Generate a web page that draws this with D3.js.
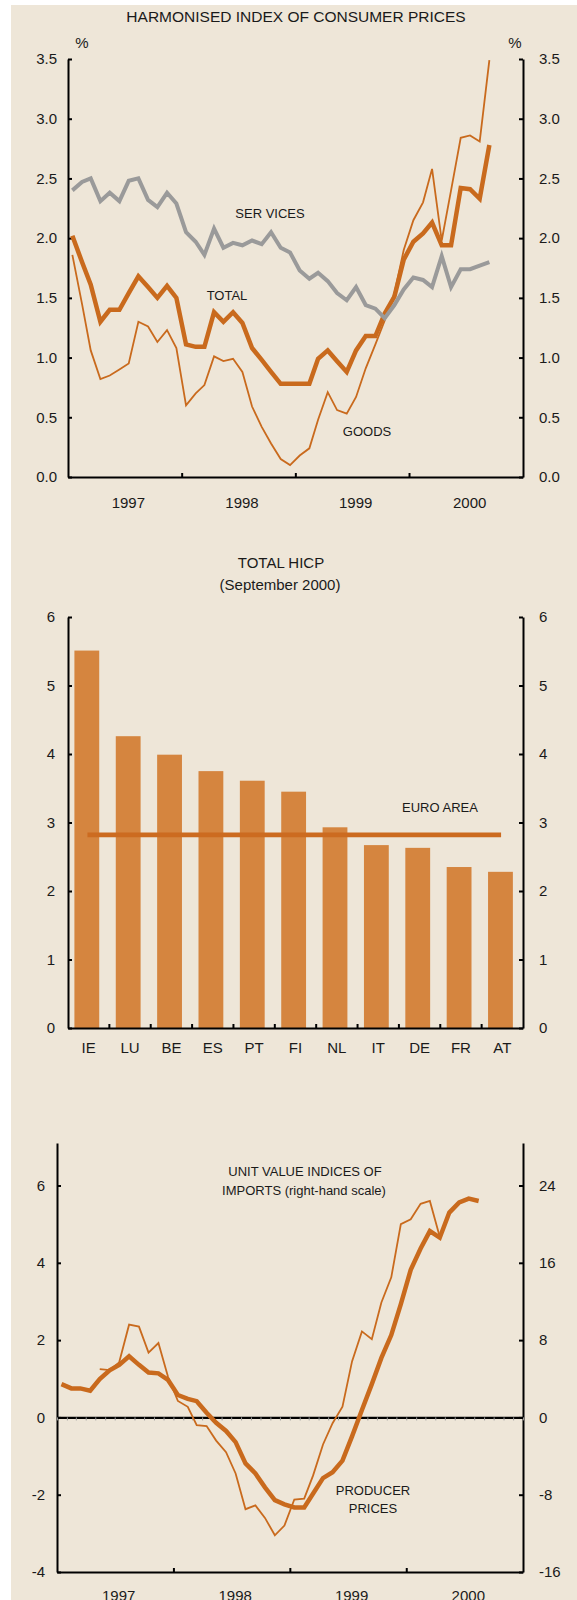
<!DOCTYPE html>
<html>
<head>
<meta charset="utf-8">
<script src="https://cdn.jsdelivr.net/npm/d3@7"></script>
<style>
body { margin: 0; background: #fff; }
svg text { font-family: "Liberation Sans", Arial, sans-serif; fill: #1a1a1a; }
</style>
</head>
<body>
<div id="chart"></div>
<script>
// monthly HICP, Jan 1997 - Sep 2000 (annual % change)
var hicpTotal = [2.02, 1.80, 1.61, 1.30, 1.40, 1.40, 1.54, 1.68, 1.59, 1.50, 1.60, 1.50,
    1.11, 1.09, 1.09, 1.38, 1.30, 1.38, 1.29, 1.08, 0.98, 0.88, 0.78, 0.78,
    0.78, 0.78, 0.99, 1.06, 0.97, 0.88, 1.06, 1.18, 1.18, 1.37, 1.51, 1.82,
    1.97, 2.04, 2.13, 1.94, 1.94, 2.42, 2.41, 2.33, 2.78];
var hicpServices = [2.40, 2.47, 2.50, 2.31, 2.38, 2.31, 2.48, 2.50, 2.32, 2.26, 2.38, 2.29,
    2.05, 1.97, 1.86, 2.08, 1.92, 1.96, 1.94, 1.98, 1.95, 2.05, 1.92, 1.88,
    1.73, 1.66, 1.71, 1.64, 1.54, 1.48, 1.59, 1.44, 1.41, 1.33, 1.44, 1.57,
    1.67, 1.65, 1.59, 1.85, 1.59, 1.74, 1.74, 1.77, 1.80];
var hicpGoods = [1.86, 1.45, 1.06, 0.82, 0.85, 0.90, 0.95, 1.30, 1.26, 1.13, 1.23, 1.08,
    0.60, 0.70, 0.77, 1.01, 0.97, 0.99, 0.88, 0.59, 0.42, 0.28, 0.15, 0.10,
    0.18, 0.24, 0.48, 0.71, 0.56, 0.53, 0.67, 0.91, 1.11, 1.31, 1.54, 1.90,
    2.15, 2.30, 2.58, 1.98, 2.40, 2.84, 2.86, 2.81, 3.49];

// total HICP by country, September 2000
var countries = ["IE", "LU", "BE", "ES", "PT", "FI", "NL", "IT", "DE", "FR", "AT"];
var countryHicp = [5.51, 4.26, 3.99, 3.75, 3.61, 3.45, 2.93, 2.67, 2.63, 2.35, 2.28];
var euroArea = 2.82;

// producer prices (left scale), Jan 1997 - Aug 2000
var producerPrices = [0.86, 0.75, 0.75, 0.69, 0.99, 1.22, 1.36, 1.58, 1.36, 1.16, 1.14, 0.97,
    0.58, 0.48, 0.42, 0.12, -0.14, -0.35, -0.64, -1.19, -1.45, -1.81, -2.14, -2.25,
    -2.33, -2.33, -1.97, -1.57, -1.42, -1.12, -0.49, 0.19, 0.86, 1.54, 2.13, 2.93,
    3.82, 4.37, 4.82, 4.65, 5.30, 5.56, 5.66, 5.60];
// unit value indices of imports (right scale), May 1997 - Apr 2000
var importPrices = [5.0, 4.9, 5.7, 9.6, 9.4, 6.7, 7.7, 4.2,
    1.7, 1.1, -0.8, -0.9, -2.4, -3.6, -5.8, -9.5, -9.1, -10.4, -12.2, -11.2,
    -8.5, -8.4, -6.0, -2.8, -0.6, 1.1, 5.8, 8.9, 8.1, 11.9, 14.5, 20.0,
    20.5, 22.1, 22.4, 18.7];
var importStart = 4;

var years = [1997, 1998, 1999, 2000];
var hicpTicks = [0, 0.5, 1, 1.5, 2, 2.5, 3, 3.5];
var barTicks = [0, 1, 2, 3, 4, 5, 6];
var ppiTicks = [-4, -2, 0, 2, 4, 6];
var importTicks = [-16, -8, 0, 8, 16, 24];

var orange = "#c96a1d";
var font = "'Liberation Sans', Arial, sans-serif";
var plain = function (d) { return String(d); };   // keeps the hyphen minus

function month(i) { return new Date(1997, i, 15); }

var svg = d3.select("#chart").append("svg")
    .attr("width", 577)
    .attr("height", 1600);

svg.append("rect")
    .attr("x", 11).attr("y", 5)
    .attr("width", 566).attr("height", 1595)
    .attr("fill", "#eee6d8");

function styleAxis(g) {
    g.attr("font-size", 15).attr("font-family", font);
    g.select(".domain").attr("stroke", "#000").attr("stroke-width", 2);
    g.selectAll(".tick line").attr("stroke", "#000").attr("stroke-width", 2);
    g.selectAll(".tick text").attr("fill", "#1a1a1a");
}

function label(txt, x, y, size) {
    svg.append("text")
        .attr("x", x).attr("y", y)
        .attr("text-anchor", "middle")
        .attr("font-size", size)
        .text(txt);
}

// ================= chart 1: HICP =================
var x1 = d3.scaleTime().domain([new Date(1997, 0, 1), new Date(2001, 0, 1)]).range([68, 523]);
var y1 = d3.scaleLinear().domain([0, 3.5]).range([477, 59]);

label("HARMONISED INDEX OF CONSUMER PRICES", 296, 22, 15.5);
label("%", 82, 48, 15);
label("%", 515, 48, 15);

svg.append("g").attr("transform", "translate(68,0)")
    .call(d3.axisLeft(y1).tickValues(hicpTicks).tickFormat(d3.format(".1f"))
        .tickSize(-4).tickSizeOuter(0).tickPadding(11))
    .call(styleAxis);
svg.append("g").attr("transform", "translate(523,0)")
    .call(d3.axisRight(y1).tickValues(hicpTicks).tickFormat(d3.format(".1f"))
        .tickSize(-4).tickSizeOuter(0).tickPadding(16))
    .call(styleAxis);
svg.append("g").attr("transform", "translate(0,477)")
    .call(d3.axisBottom(x1).tickValues([1998, 1999, 2000].map(function (y) { return new Date(y, 0, 1); }))
        .tickFormat("").tickSize(-4).tickSizeOuter(0))
    .call(styleAxis);

svg.selectAll(".yr1")
    .data(years)
    .enter()
    .append("text")
    .attr("class", "yr1")
    .attr("x", function (d) { return x1(new Date(d, 6, 1)) + 4; })
    .attr("y", 508)
    .attr("text-anchor", "middle")
    .attr("font-size", 15)
    .text(function (d) { return d; });

var line1 = d3.line()
    .x(function (d, i) { return x1(month(i)); })
    .y(function (d) { return y1(d); });

svg.append("path").datum(hicpGoods)
    .attr("d", line1).attr("fill", "none")
    .attr("stroke", orange).attr("stroke-width", 1.8);
svg.append("path").datum(hicpTotal)
    .attr("d", line1).attr("fill", "none")
    .attr("stroke", orange).attr("stroke-width", 4.5);
svg.append("path").datum(hicpServices)
    .attr("d", line1).attr("fill", "none")
    .attr("stroke", "#9a9a9a").attr("stroke-width", 4);

label("SER VICES", 270, 218, 13);
label("TOTAL", 227, 300, 13);
label("GOODS", 367, 436, 13);

// ================= chart 2: total HICP by country =================
var x2 = d3.scaleBand().domain(countries).range([68, 523]);
var y2 = d3.scaleLinear().domain([0, 6]).range([1028, 617]);
var bw = x2.bandwidth();

label("TOTAL HICP", 281, 568, 15);
label("(September 2000)", 280, 590, 15);

svg.selectAll(".bar")
    .data(countries)
    .enter()
    .append("rect")
    .attr("class", "bar")
    .attr("fill", "#d5853f")
    .attr("x", function (d) { return x2(d) + bw * 0.155; })
    .attr("width", bw * 0.6)
    .attr("y", function (d, i) { return y2(countryHicp[i]); })
    .attr("height", function (d, i) { return y2(0) - y2(countryHicp[i]); });

svg.append("line")
    .attr("x1", x2(countries[0]) + bw * 0.47)
    .attr("x2", x2(countries[countries.length - 1]) + bw * 0.47)
    .attr("y1", y2(euroArea)).attr("y2", y2(euroArea))
    .attr("stroke", "#cc6b20").attr("stroke-width", 4.7);
label("EURO AREA", 440, 812, 13);

svg.append("g").attr("transform", "translate(68,0)")
    .call(d3.axisLeft(y2).tickValues(barTicks).tickFormat(plain)
        .tickSize(-4).tickSizeOuter(0).tickPadding(13))
    .call(styleAxis);
svg.append("g").attr("transform", "translate(523,0)")
    .call(d3.axisRight(y2).tickValues(barTicks).tickFormat(plain)
        .tickSize(-4).tickSizeOuter(0).tickPadding(16))
    .call(styleAxis);
svg.append("g").attr("transform", "translate(0,1028)")
    .call(d3.axisBottom(x2).tickSize(0).tickSizeOuter(0).tickPadding(14))
    .call(styleAxis);
// ticks sit between the bars
svg.selectAll(".btick")
    .data(countries.slice(1))
    .enter()
    .append("line")
    .attr("class", "btick")
    .attr("x1", function (d) { return x2(d); })
    .attr("x2", function (d) { return x2(d); })
    .attr("y1", 1028).attr("y2", 1024)
    .attr("stroke", "#000").attr("stroke-width", 2);

// ================= chart 3: producer and import prices =================
var x3 = d3.scaleTime().domain([new Date(1997, 0, 1), new Date(2001, 0, 1)]).range([57, 523]);
var y3 = d3.scaleLinear().domain([-4, 7.1]).range([1572, 1143]);
var y3r = d3.scaleLinear().domain([-16, 28.4]).range([1572, 1143]);

svg.append("g").attr("transform", "translate(57,0)")
    .call(d3.axisLeft(y3).tickValues(ppiTicks).tickFormat(plain)
        .tickSize(-4).tickSizeOuter(0).tickPadding(12))
    .call(styleAxis);
svg.append("g").attr("transform", "translate(523,0)")
    .call(d3.axisRight(y3r).tickValues(importTicks).tickFormat(plain)
        .tickSize(-4).tickSizeOuter(0).tickPadding(16))
    .call(styleAxis);
svg.append("g").attr("transform", "translate(0,1572)")
    .call(d3.axisBottom(x3).tickValues([1998, 1999, 2000].map(function (y) { return new Date(y, 0, 1); }))
        .tickFormat("").tickSize(-4).tickSizeOuter(0))
    .call(styleAxis);

// zero line with small monthly marks
var zero = svg.append("g").attr("transform", "translate(0," + y3(0) + ")")
    .call(d3.axisBottom(x3).ticks(d3.timeMonth.every(1)).tickFormat("").tickSize(3).tickSizeOuter(0));
zero.select(".domain").attr("stroke", "#000").attr("stroke-width", 2.2);
zero.selectAll(".tick line").attr("stroke", "#999").attr("stroke-width", 1);

svg.selectAll(".yr3")
    .data(years)
    .enter()
    .append("text")
    .attr("class", "yr3")
    .attr("x", function (d) { return x3(new Date(d, 6, 1)) + 4; })
    .attr("y", 1601)
    .attr("text-anchor", "middle")
    .attr("font-size", 15)
    .text(function (d) { return d; });

svg.append("path").datum(importPrices)
    .attr("fill", "none").attr("stroke", orange).attr("stroke-width", 1.8)
    .attr("d", d3.line()
        .x(function (d, i) { return x3(month(i + importStart)); })
        .y(function (d) { return y3r(d); }));
svg.append("path").datum(producerPrices)
    .attr("fill", "none").attr("stroke", orange).attr("stroke-width", 4.5)
    .attr("d", d3.line()
        .x(function (d, i) { return x3(month(i)); })
        .y(function (d) { return y3(d); }));

label("UNIT VALUE INDICES OF", 305, 1176, 13);
label("IMPORTS (right-hand scale)", 304, 1195, 13);
label("PRODUCER", 373, 1495, 13);
label("PRICES", 373, 1513, 13);
</script>
</body>
</html>
